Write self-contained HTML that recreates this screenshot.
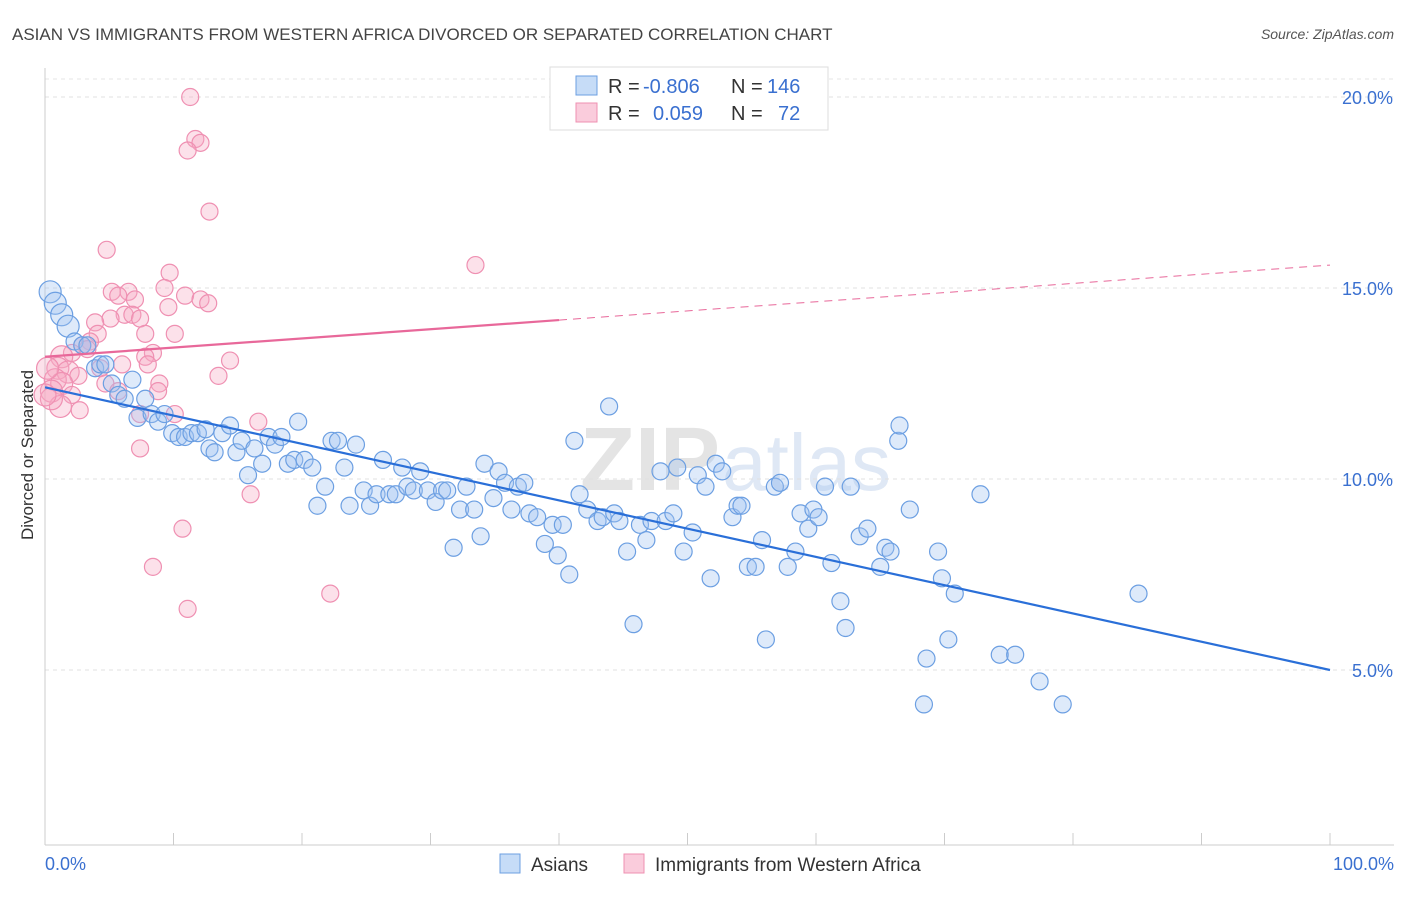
<!DOCTYPE html>
<html><head><meta charset="utf-8"><style>
body{margin:0;background:#fff;font-family:"Liberation Sans",sans-serif}
svg text{font-family:"Liberation Sans",sans-serif}
</style></head><body>
<svg id="c" width="1406" height="892" xmlns="http://www.w3.org/2000/svg"></svg>
<script>
const yTicks=[5,10,15,20];
const yTickLabels=["5.0%","10.0%","15.0%","20.0%"];
const xTickLabels=["0.0%","100.0%"];
const asianX=[0.4,0.8,1.3,1.8,2.3,2.9,3.3,3.9,4.3,4.7,5.2,5.7,6.2,6.8,7.8,7.2,8.3,8.8,9.3,9.9,10.4,10.9,11.4,11.9,12.5,12.8,13.2,13.8,14.4,14.9,15.3,15.8,16.3,16.9,17.4,17.9,18.4,18.9,19.4,19.7,20.2,20.8,21.2,21.8,22.3,22.8,23.3,23.7,24.2,24.8,25.3,25.8,26.3,26.8,27.3,27.8,28.2,28.7,29.2,29.8,30.4,30.9,31.3,31.8,32.3,32.8,33.4,33.9,34.2,34.9,35.3,35.8,36.3,36.8,37.3,37.7,38.3,38.9,39.5,39.9,40.3,40.8,41.2,41.6,42.2,43.0,43.4,43.9,44.3,44.7,45.3,45.8,46.3,46.8,47.2,47.9,48.3,48.9,49.2,49.7,50.4,50.8,51.4,51.8,52.2,52.7,53.5,53.9,54.2,54.7,55.3,55.8,56.1,56.8,57.2,57.8,58.4,58.8,59.4,59.8,60.2,60.7,61.2,61.9,62.3,62.7,63.4,64.0,65.0,65.4,65.8,66.4,66.5,67.3,68.6,68.4,69.5,69.8,70.3,70.8,72.8,74.3,75.5,77.4,79.2,85.1];
const asianY=[14.9,14.6,14.3,14.0,13.6,13.5,13.5,12.9,13.0,13.0,12.5,12.2,12.1,12.6,12.1,11.6,11.7,11.5,11.7,11.2,11.1,11.1,11.2,11.2,11.3,10.8,10.7,11.2,11.4,10.7,11.0,10.1,10.8,10.4,11.1,10.9,11.1,10.4,10.5,11.5,10.5,10.3,9.3,9.8,11.0,11.0,10.3,9.3,10.9,9.7,9.3,9.6,10.5,9.6,9.6,10.3,9.8,9.7,10.2,9.7,9.4,9.7,9.7,8.2,9.2,9.8,9.2,8.5,10.4,9.5,10.2,9.9,9.2,9.8,9.9,9.1,9.0,8.3,8.8,8.0,8.8,7.5,11.0,9.6,9.2,8.9,9.0,11.9,9.1,8.9,8.1,6.2,8.8,8.4,8.9,10.2,8.9,9.1,10.3,8.1,8.6,10.1,9.8,7.4,10.4,10.2,9.0,9.3,9.3,7.7,7.7,8.4,5.8,9.8,9.9,7.7,8.1,9.1,8.7,9.2,9.0,9.8,7.8,6.8,6.1,9.8,8.5,8.7,7.7,8.2,8.1,11.0,11.4,9.2,5.3,4.1,8.1,7.4,5.8,7.0,9.6,5.4,5.4,4.7,4.1,7.0];
const waX=[11.3,11.7,12.1,11.1,12.8,4.8,33.5,9.7,9.3,5.2,6.5,5.7,7.0,10.9,12.1,12.7,9.6,6.2,5.1,3.9,6.8,7.4,4.1,7.8,10.1,3.5,2.9,3.3,2.1,1.3,8.4,7.8,8.0,6.0,14.4,1.0,1.8,2.6,4.3,13.5,0.8,1.3,8.9,0.5,2.1,4.7,5.7,8.8,1.2,2.7,10.1,16.6,7.4,7.4,16.0,10.7,8.4,11.1,22.2,0.2,0.5,0.0];
const waY=[20.0,18.9,18.8,18.6,17.0,16.0,15.6,15.4,15.0,14.9,14.9,14.8,14.7,14.8,14.7,14.6,14.5,14.3,14.2,14.1,14.3,14.2,13.8,13.8,13.8,13.6,13.5,13.4,13.3,13.2,13.3,13.2,13.0,13.0,13.1,12.9,12.8,12.7,12.9,12.7,12.6,12.5,12.5,12.3,12.2,12.5,12.3,12.3,11.9,11.8,11.7,11.5,11.7,10.8,9.6,8.7,7.7,6.6,7.0,12.9,12.1,12.2];
const asianTrend=[12.4,5.0];
const waTrend=[13.2,15.6];
const NS="http://www.w3.org/2000/svg";
const svg=document.getElementById('c');
const X=v=>45+v*12.85, Y=v=>861-v*38.2;
function mk(t,a,p){const e=document.createElementNS(NS,t);for(const k in a)e.setAttribute(k,a[k]);(p||svg).appendChild(e);return e;}
function txt(x,y,s,a){const e=mk('text',Object.assign({x:x,y:y},a));e.textContent=s;return e;}
let t=txt(12,40,"ASIAN VS IMMIGRANTS FROM WESTERN AFRICA DIVORCED OR SEPARATED CORRELATION CHART",{'font-size':17,fill:'#444'});


t=txt(1394,39,"Source: ZipAtlas.com",{'font-size':14,fill:'#555','text-anchor':'end','font-style':'italic'});


// watermark
t=txt(720,490,"ZIP",{'font-size':90,fill:'#e4e4e4','text-anchor':'end','font-weight':'bold'});


t=txt(722,490,"atlas",{'font-size':80,fill:'#dfe8f5'});


// grid
mk('line',{x1:45,x2:1394,y1:79,y2:79,stroke:'#e6e6e6','stroke-dasharray':'4,4'});
yTicks.forEach((v,i)=>{
 const g=mk('line',{x1:45,x2:1394,y1:Y(v),y2:Y(v),stroke:'#e0e0e0','stroke-dasharray':'4,4'});
 
 
 const l=txt(1393,Y(v)+7,yTickLabels[i],{'font-size':18,fill:'#3a70d0','text-anchor':'end'});
 
 
});
let ax=mk('line',{x1:45,x2:45,y1:68,y2:845,stroke:'#ccc'});


ax=mk('line',{x1:45,x2:1394,y1:845,y2:845,stroke:'#ccc'});


for(let i=0;i<=10;i++){const tk=mk('line',{x1:X(i*10),x2:X(i*10),y1:833,y2:845,stroke:'#ccc'});
 
 }
t=txt(45,870,xTickLabels[0],{'font-size':18,fill:'#3a70d0'});


t=txt(1394,870,xTickLabels[1],{'font-size':18,fill:'#3a70d0','text-anchor':'end'});


t=txt(33,455,"Divorced or Separated",{'font-size':17,fill:'#333','text-anchor':'middle',transform:'rotate(-90 33 455)'});


// points
const gW=mk('g',{});


waX.forEach((v,i)=>{const c=mk('circle',{cx:X(v),cy:Y(waY[i]),r:v<2?11:8.5,fill:'rgba(246,170,196,0.35)',stroke:'#ef90b2','stroke-width':1.2},gW);
 
 });
const gA=mk('g',{});


asianX.forEach((v,i)=>{const c=mk('circle',{cx:X(v),cy:Y(asianY[i]),r:v<2?11:8.5,fill:'rgba(160,196,242,0.35)',stroke:'#6c9fe2','stroke-width':1.2},gA);
 
 });
// trends
let ln=mk('line',{x1:X(0),y1:Y(asianTrend[0]),x2:X(100),y2:Y(asianTrend[1]),stroke:'#2a6fd8','stroke-width':2.2});


const wa=x=>waTrend[0]+(waTrend[1]-waTrend[0])*x/100;
ln=mk('line',{x1:X(0),y1:Y(wa(0)),x2:X(40),y2:Y(wa(40)),stroke:'#e8689a','stroke-width':2.2});


ln=mk('line',{x1:X(40),y1:Y(wa(40)),x2:X(100),y2:Y(wa(100)),stroke:'#e8689a','stroke-width':1,'stroke-dasharray':'8,6'});


// legend
const lg=mk('g',{});


mk('rect',{x:550,y:67,width:278,height:63,fill:'#fff',stroke:'#ddd'},lg);
mk('rect',{x:576,y:76,width:21,height:19,fill:'rgba(160,196,242,0.6)',stroke:'#6c9fe2'},lg);
mk('rect',{x:576,y:103,width:21,height:19,fill:'rgba(246,170,196,0.6)',stroke:'#ef90b2'},lg);
[["R = ",608,93,'#333'],["-0.806",643,93,'#3a70d0'],["N = ",731,93,'#333'],["146",767,93,'#3a70d0'],
 ["R = ",608,120,'#333'],["0.059",653,120,'#3a70d0'],["N = ",731,120,'#333'],["72",778,120,'#3a70d0']].forEach(a=>{
 const e=txt(a[1],a[2],a[0],{'font-size':20,fill:a[3]},lg);
 
 });
// bottom legend
const bl=mk('g',{});


let r=mk('rect',{x:500,y:854,width:20,height:19,fill:'rgba(160,196,242,0.6)',stroke:'#6c9fe2'},bl);


t=txt(531,871,"Asians",{'font-size':19,fill:'#333'},bl);


r=mk('rect',{x:624,y:854,width:20,height:19,fill:'rgba(246,170,196,0.6)',stroke:'#ef90b2'},bl);


t=txt(655,871,"Immigrants from Western Africa",{'font-size':19,fill:'#333'},bl);


</script>
</body></html>
